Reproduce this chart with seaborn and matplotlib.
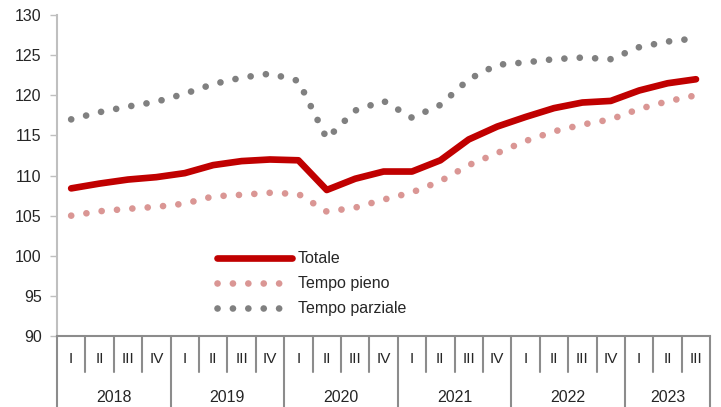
import numpy as np
import pandas as pd
import matplotlib
matplotlib.use("Agg")
import matplotlib.pyplot as plt
import seaborn as sns

# Quarterly indices, 2018 Q1 - 2023 Q3
years = ["2018", "2019", "2020", "2021", "2022", "2023"]
quarter_labels = ["I", "II", "III", "IV"] * 5 + ["I", "II", "III"]
totale = [108.4, 109.0, 109.5, 109.8, 110.3, 111.3, 111.8, 112.0, 111.9, 108.2,
          109.6, 110.5, 110.5, 111.9, 114.5, 116.1, 117.3, 118.4, 119.1, 119.3,
          120.6, 121.5, 122.0]
tempo_pieno = [105.0, 105.55, 105.85, 106.1, 106.5, 107.4, 107.6, 107.85, 107.7, 105.5,
               106.0, 107.0, 107.9, 109.3, 111.3, 112.8, 114.3, 115.5, 116.35, 117.0,
               118.3, 119.25, 120.0]
tempo_parziale = [117.0, 117.9, 118.6, 119.2, 120.2, 121.4, 122.2, 122.7, 121.8, 114.6,
                  118.1, 119.3, 117.2, 118.8, 122.0, 123.8, 124.1, 124.5, 124.7, 124.5,
                  126.0, 126.7, 127.1]
series_names = ["Totale", "Tempo pieno", "Tempo parziale"]

sns.set_theme(style="white")
plt.rcParams['font.family'] = ['Liberation Sans', 'DejaVu Sans']
plt.rcParams['text.color'] = '#262626'

n = len(totale)
idx = np.arange(n)
df = pd.DataFrame({
    "t": np.tile(idx, 3),
    "valore": totale + tempo_pieno + tempo_parziale,
    "serie": np.repeat(series_names, n),
})

palette = {"Totale": "#C00000", "Tempo pieno": "#DA9694", "Tempo parziale": "#808080"}
dashes = {"Totale": "", "Tempo pieno": (0.01, 2.3), "Tempo parziale": (0.01, 2.3)}

fig = plt.figure(figsize=(7.21, 4.07), dpi=100)
ax = fig.add_axes([0.079, 0.1744, 0.906, 0.7886])

sns.lineplot(data=df, x="t", y="valore", hue="serie", style="serie",
             palette=palette, dashes=dashes, linewidth=4.8,
             dash_capstyle="round", solid_capstyle="round", ax=ax)

ax.set_xlim(-0.5, n - 0.5)
ax.set_ylim(90, 130)
ax.set_yticks(range(90, 131, 5))
ax.set_xticks([])
ax.set_xlabel("")
ax.set_ylabel("")
ax.tick_params(axis="y", left=True, length=5, width=1, color="#BFBFBF",
               pad=6, labelsize=11.5, labelcolor="#262626")

for side in ["top", "right"]:
    ax.spines[side].set_visible(False)
ax.spines["left"].set_color("#BFBFBF")
ax.spines["left"].set_linewidth(1.5)
ax.spines["bottom"].set_color("#8C8C8C")
ax.spines["bottom"].set_linewidth(1.5)

# two-level category axis
trans = ax.get_xaxis_transform()
for i, q in enumerate(quarter_labels):
    ax.text(i, -0.073, q, transform=trans, ha="center", va="center", fontsize=11)
    if i > 0 and q != "I":
        ax.plot([i - 0.5, i - 0.5], [0, -0.112], transform=trans, color="#8C8C8C",
                lw=1.5, clip_on=False)
year_starts = [i for i, q in enumerate(quarter_labels) if q == "I"]
for k, start in enumerate(year_starts):
    end = year_starts[k + 1] if k + 1 < len(year_starts) else n
    ax.text((start + end - 1) / 2, -0.19, years[k], transform=trans,
            ha="center", va="center", fontsize=11.5)
for b in year_starts + [n]:
    ax.plot([b - 0.5, b - 0.5], [0, -0.23], transform=trans, color="#8C8C8C",
            lw=1.5, clip_on=False)

handles, labels = ax.get_legend_handles_labels()
ax.legend(handles, labels, loc="upper left", bbox_to_anchor=(0.245, 0.264),
          frameon=False, fontsize=11.5, handlelength=4.7, handletextpad=0.35,
          labelspacing=0.62, borderpad=0, borderaxespad=0)

fig.savefig("out.png", dpi=100)
